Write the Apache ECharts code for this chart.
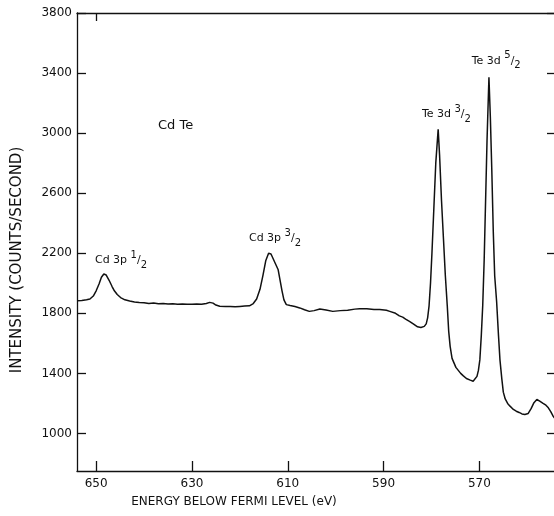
<!DOCTYPE html>
<html lang="en">
<head>
    <meta charset="UTF-8">
    <title>Cd Te</title>
    <script src="https://cdn.jsdelivr.net/npm/echarts@6/dist/echarts.min.js"></script>
    <style>
        html, body { margin: 0; padding: 0; background: #fff; }
        #main { width: 554px; height: 516px; }
    </style>
</head>
<body>
<div id="main"></div>
<script>
    // binding energy (eV) and counts/second
    let energy = [
        654.0, 653.0, 652.0, 651.3, 650.6, 650.0, 649.4, 648.9, 648.4, 647.9,
        647.3, 646.7, 646.2, 645.6, 644.9, 644.0, 643.0, 642.0, 641.0, 640.0,
        639.0, 638.0, 637.0, 636.0, 635.0, 634.0, 633.0, 632.0, 631.0, 630.0,
        629.0, 628.0, 627.0, 626.3, 625.6, 625.0, 624.2, 623.0, 622.0, 621.0,
        620.0, 619.0, 618.0, 617.2, 616.5, 615.8, 615.2, 614.6, 614.0, 613.5,
        613.0, 612.5, 612.0, 611.6, 611.2, 610.8, 610.3, 609.5, 608.5, 607.5,
        606.5, 605.5, 604.5, 603.3, 602.0, 600.6, 599.0, 597.5, 596.0, 595.0,
        593.5, 592.0, 590.8, 589.4, 588.7, 587.5, 586.7, 586.0, 585.4, 584.6,
        583.8, 582.9, 582.2, 581.5, 581.1, 580.8, 580.5, 580.2, 579.9, 579.5,
        579.1, 578.6, 578.3, 577.9, 577.5, 577.1, 576.7, 576.4, 576.1, 575.7,
        575.3, 574.9, 574.4, 573.9, 573.4, 572.7, 571.9, 571.3, 570.9, 570.5,
        570.2, 569.9, 569.6, 569.3, 569.0, 568.7, 568.4, 568.0, 567.7, 567.4,
        567.1, 566.8, 566.4, 566.0, 565.7, 565.3, 565.0, 564.6, 564.1, 563.6,
        562.9, 562.3, 561.7, 561.1, 560.5, 559.8, 559.2, 558.6, 558.0, 557.4,
        556.7, 556.1, 555.6, 555.1, 554.6, 554.2
    ];
    let intensity = [
        1884, 1886, 1890, 1895, 1915, 1950, 1995, 2040, 2062, 2055,
        2020, 1980, 1950, 1925, 1905, 1890, 1882, 1876, 1872, 1871,
        1866, 1869, 1864, 1866, 1862, 1864, 1860, 1862, 1860, 1860,
        1862, 1860, 1866, 1873, 1868, 1855, 1847, 1845, 1846, 1844,
        1846, 1848, 1850, 1865, 1895, 1960, 2050, 2150, 2200, 2195,
        2160, 2125, 2090, 2020, 1950, 1890, 1858, 1852, 1845, 1836,
        1824, 1813, 1818, 1829, 1822, 1813, 1818, 1820, 1828, 1831,
        1830, 1826, 1825, 1820, 1813, 1800, 1783, 1775, 1762, 1747,
        1730, 1710, 1706, 1713, 1730, 1770, 1850, 2000, 2200, 2500,
        2800, 3026, 2850, 2550, 2300, 2050, 1850, 1680, 1580, 1500,
        1470, 1440, 1420, 1400, 1385, 1366, 1355, 1348, 1350, 1380,
        1420, 1490, 1650, 1850, 2150, 2550, 2950, 3372, 3100, 2750,
        2350, 2050, 1880, 1650, 1490, 1360, 1275, 1230, 1200, 1182,
        1160, 1148, 1140, 1130, 1126, 1133, 1165, 1205, 1226, 1215,
        1200, 1188, 1171, 1145, 1115, 1100
    ];
    let xTicks = [650, 630, 610, 590, 570];
    let yTicks = [1000, 1400, 1800, 2200, 2600, 3000, 3400, 3800];

    // peak labels: [energy, intensity] of the text's left/middle point
    let labelNames = ['Cd Te', 'Cd 3p', 'Cd 3p', 'Te 3d', 'Te 3d'];
    let labelFrac = [null, ['1', '2'], ['3', '2'], ['3', '2'], ['5', '2']];
    let labelAt = [[637.1, 3048], [650.25, 2155], [618.1, 2302], [582.0, 3128], [571.6, 3481]];

    let font = 'DejaVu Sans';
    let myChart = echarts.init(document.getElementById('main'));

    let seriesData = energy.map(function (e, i) { return [e, intensity[i]]; });

    let marks = labelNames.map(function (name, i) {
        let txt = labelFrac[i]
            ? '{m|' + name + ' }{n|' + labelFrac[i][0] + '}{s|/}{d|' + labelFrac[i][1] + '}'
            : '{big|' + name + '}';
        return {coord: labelAt[i], label: {formatter: txt}};
    });

    let axisLine = {show: true, lineStyle: {color: '#111', width: 1.3}};
    let tickStyle = {color: '#111', width: 1.3};

    let option = {
        animation: false,
        grid: {left: 77, top: 13, right: -2, bottom: 45, outerBoundsMode: 'none'},
        xAxis: [{
            type: 'value',
            min: 554,
            max: 654,
            inverse: true,
            axisLine: axisLine,
            splitLine: {show: false},
            axisTick: {inside: true, length: 10, customValues: xTicks, lineStyle: tickStyle},
            axisLabel: {customValues: xTicks, margin: 7, color: '#111', fontFamily: font, fontSize: 12}
        }, {
            type: 'value',
            position: 'top',
            min: 554,
            max: 654,
            inverse: true,
            axisLine: axisLine,
            splitLine: {show: false},
            axisTick: {inside: true, length: 8, customValues: [650], lineStyle: tickStyle},
            axisLabel: {show: false}
        }],
        yAxis: [{
            type: 'value',
            min: 750,
            max: 3800,
            axisLine: axisLine,
            splitLine: {show: false},
            axisTick: {inside: true, length: 9, customValues: yTicks, lineStyle: tickStyle},
            axisLabel: {
                customValues: yTicks, margin: 5, color: '#111', fontFamily: font, fontSize: 12,
                formatter: function (v) { return String(v); }
            }
        }, {
            type: 'value',
            position: 'right',
            min: 750,
            max: 3800,
            axisLine: axisLine,
            splitLine: {show: false},
            axisTick: {inside: true, length: 9, customValues: yTicks, lineStyle: tickStyle},
            axisLabel: {show: false}
        }],
        graphic: [{
            type: 'text',
            x: 17,
            y: 260,
            rotation: Math.PI / 2,
            style: {
                text: 'INTENSITY (COUNTS/SECOND)',
                fill: '#111',
                font: '15px "DejaVu Sans"',
                align: 'center',
                verticalAlign: 'middle'
            }
        }, {
            type: 'text',
            x: 234,
            y: 502,
            style: {
                text: 'ENERGY BELOW FERMI LEVEL (eV)',
                fill: '#111',
                font: '12px "DejaVu Sans"',
                align: 'center',
                verticalAlign: 'middle'
            }
        }],
        series: [{
            type: 'line',
            data: seriesData,
            showSymbol: false,
            symbol: 'none',
            lineStyle: {color: '#111', width: 1.5},
            markPoint: {
                symbol: 'circle',
                symbolSize: 0,
                label: {
                    position: 'right',
                    distance: 0,
                    color: '#111',
                    fontFamily: font,
                    rich: {
                        big: {fontSize: 13, fontFamily: font, color: '#111'},
                        m: {fontSize: 11, fontFamily: font, color: '#111', lineHeight: 20, verticalAlign: 'middle'},
                        n: {fontSize: 10, fontFamily: font, color: '#111', verticalAlign: 'top', lineHeight: 20},
                        s: {fontSize: 11, fontFamily: font, color: '#111', lineHeight: 20},
                        d: {fontSize: 10, fontFamily: font, color: '#111', verticalAlign: 'bottom', lineHeight: 20}
                    }
                },
                data: marks
            }
        }]
    };
    myChart.setOption(option);
</script>
</body>
</html>
